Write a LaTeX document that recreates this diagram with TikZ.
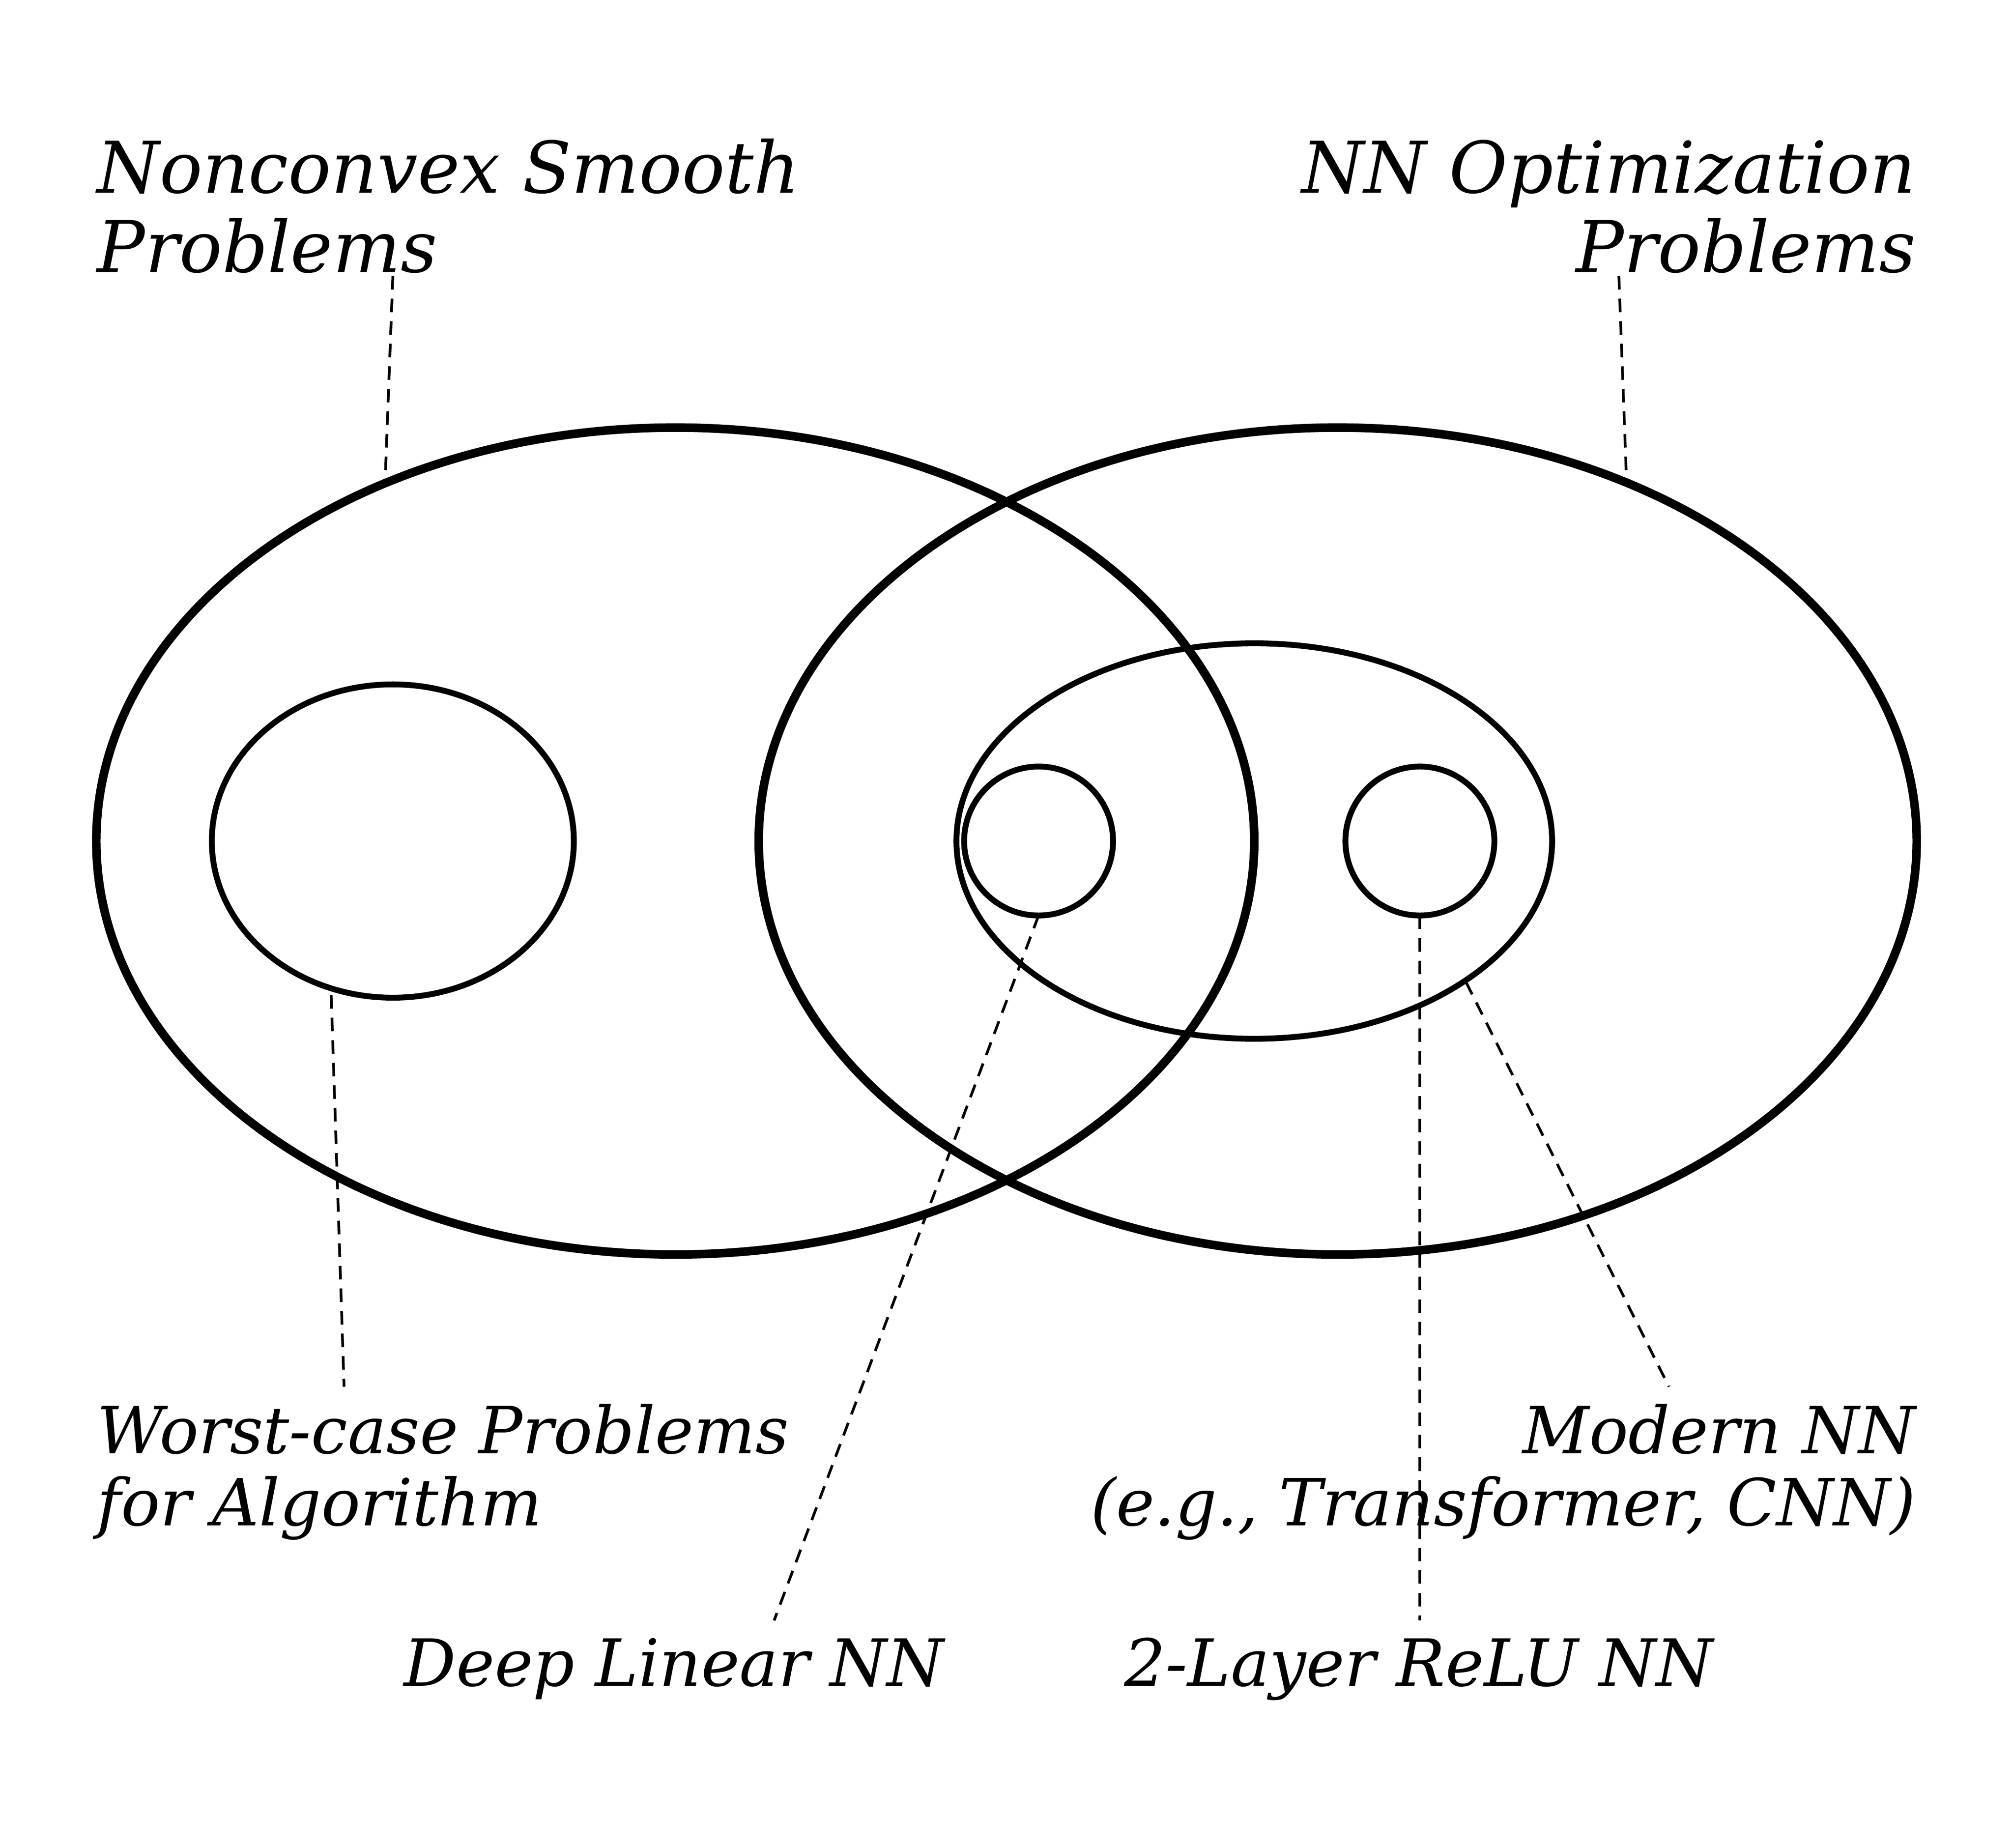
\documentclass[tikz,border=0pt]{standalone}
\usepackage{fontspec}
\setmainfont{DejaVu Serif}
\begin{document}
\begin{tikzpicture}[x=0.01cm,y=-0.01cm,
  outer/.style={line width=1.9pt},
  inner/.style={line width=1.3pt},
  lead/.style={dash pattern=on 3pt off 2pt,line width=0.6pt},
  lbl/.style={inner sep=0pt,font=\fontsize{15.8}{17.6}\selectfont\itshape},
  sublbl/.style={inner sep=0pt,font=\fontsize{14.4}{15.9}\selectfont\itshape}]
\useasboundingbox (0,0) rectangle (1568,1439);

%sets
\draw[outer] (526,655) ellipse [x radius=451, y radius=322];
\draw[outer] (1042,655) ellipse [x radius=451, y radius=322];
\draw[inner] (306,655) ellipse [x radius=141, y radius=122];
\draw[inner] (977,655) ellipse [x radius=232, y radius=154];
\draw[inner] (809,655) circle [radius=58];
\draw[inner] (1106,655) circle [radius=58];

%labels
\node[lbl,anchor=base west,align=left] (nonconvex) at (75,212) {Nonconvex Smooth\\Problems};
\node[lbl,anchor=base east,align=right] (nnopt) at (1493,212) {NN Optimization\\Problems};
\node[sublbl,anchor=base west,align=left] (worst) at (75,1188) {Worst-case Problems\\for Algorithm};
\node[sublbl,anchor=base east,align=right] (modern) at (1493,1188) {Modern NN\\(e.g., Transformer, CNN)};
\node[sublbl,anchor=base] (deeplin) at (525,1313) {Deep Linear NN};
\node[sublbl,anchor=base] (relu) at (1105,1313) {2-Layer ReLU NN};

%leaders
\coordinate (a1) at (306,215); \coordinate (a2) at (300,375);
\coordinate (b1) at (1261,215); \coordinate (b2) at (1267,375);
\coordinate (c1) at (258,775); \coordinate (c2) at (268,1080);
\coordinate (d1) at (809,713); \coordinate (d2) at (603,1262);
\coordinate (e1) at (1106,713); \coordinate (e2) at (1106,1262);
\coordinate (f1) at (1142,765); \coordinate (f2) at (1300,1080);
\foreach \p in {a,b,c,d,e,f}
  \draw[lead] (\p1) -- (\p2);
\end{tikzpicture}
\end{document}
